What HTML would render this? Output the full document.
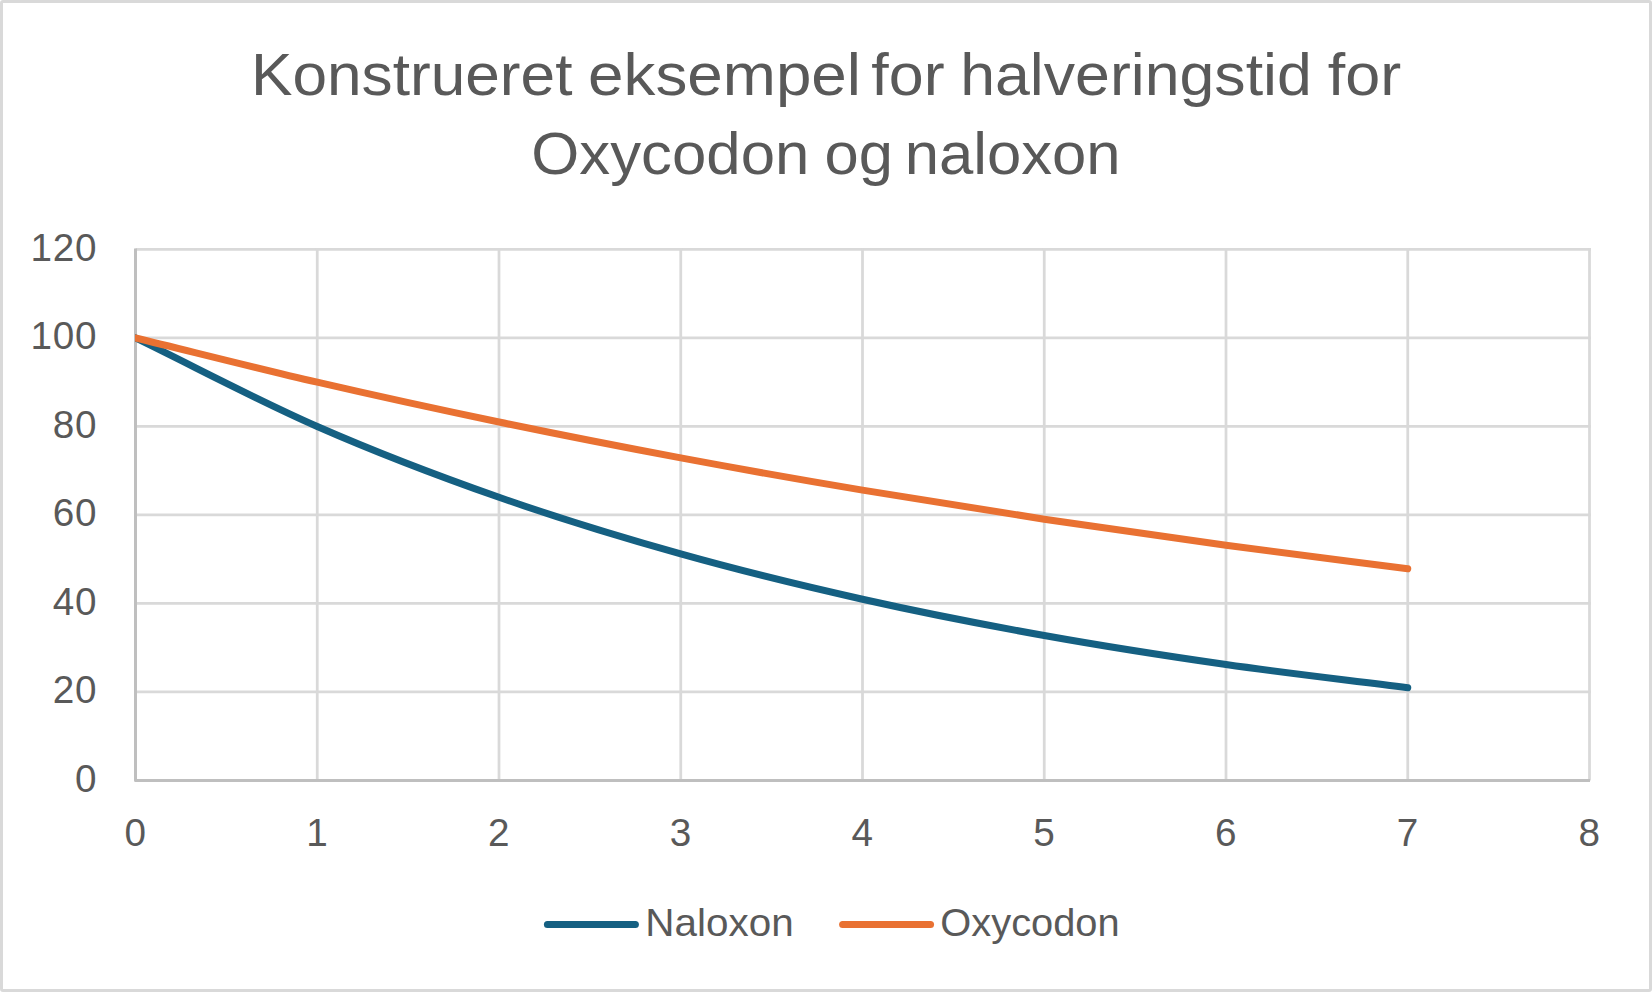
<!DOCTYPE html>
<html lang="da"><head><meta charset="utf-8"><title>Konstrueret eksempel for halveringstid for Oxycodon og naloxon</title>
<style>html,body{margin:0;padding:0;background:#fff;overflow:hidden}svg{display:block}text{font-family:"Liberation Sans",sans-serif;fill:#595959}</style></head><body>
<svg width="1652" height="992" viewBox="0 0 1652 992">
<rect x="0" y="0" width="1652" height="992" fill="#fff"/>
<rect x="1.5" y="1.5" width="1649" height="989" rx="1.5" fill="none" stroke="#D9D9D9" stroke-width="3"/>
<g stroke="#D9D9D9" stroke-width="2.75" fill="none">
<line x1="135.50" x2="1590.88" y1="691.99" y2="691.99"/>
<line x1="135.50" x2="1590.88" y1="603.48" y2="603.48"/>
<line x1="135.50" x2="1590.88" y1="514.98" y2="514.98"/>
<line x1="135.50" x2="1590.88" y1="426.47" y2="426.47"/>
<line x1="135.50" x2="1590.88" y1="337.96" y2="337.96"/>
<line x1="135.50" x2="1590.88" y1="249.45" y2="249.45"/>
<line x1="317.25" x2="317.25" y1="248.07" y2="780.50"/>
<line x1="499.00" x2="499.00" y1="248.07" y2="780.50"/>
<line x1="680.75" x2="680.75" y1="248.07" y2="780.50"/>
<line x1="862.50" x2="862.50" y1="248.07" y2="780.50"/>
<line x1="1044.25" x2="1044.25" y1="248.07" y2="780.50"/>
<line x1="1226.00" x2="1226.00" y1="248.07" y2="780.50"/>
<line x1="1407.75" x2="1407.75" y1="248.07" y2="780.50"/>
<line x1="1589.50" x2="1589.50" y1="248.07" y2="780.50"/>
</g>
<g stroke="#BFBFBF" stroke-width="3" fill="none">
<polyline points="135.50,248.45 135.50,780.50 1590.00,780.50" stroke-linejoin="round"/>
</g>
<clipPath id="plotclip"><rect x="135" y="239.45" width="1464.50" height="551.05"/></clipPath>
<path clip-path="url(#plotclip)" d="M135.50,337.96 C196.08,367.46 256.67,399.91 317.25,426.47 C377.83,453.02 438.42,476.03 499.00,497.27 C559.58,518.52 620.17,536.93 680.75,553.92 C741.33,570.91 801.92,585.64 862.50,599.23 C923.08,612.83 983.67,624.61 1044.25,635.49 C1104.83,646.36 1165.42,655.79 1226.00,664.49 C1286.58,673.19 1347.17,679.96 1407.75,687.69" fill="none" stroke="#156082" stroke-width="7" stroke-linecap="round" stroke-linejoin="round"/>
<path clip-path="url(#plotclip)" d="M135.50,337.96 C196.08,352.71 256.67,368.20 317.25,382.21 C377.83,396.23 438.42,409.43 499.00,422.04 C559.58,434.65 620.17,446.54 680.75,457.89 C741.33,469.24 801.92,479.93 862.50,490.15 C923.08,500.36 983.67,509.99 1044.25,519.18 C1104.83,528.38 1165.42,537.04 1226.00,545.32 C1286.58,553.59 1347.17,560.99 1407.75,568.83" fill="none" stroke="#E97132" stroke-width="7" stroke-linecap="round" stroke-linejoin="round"/>
<line x1="547.4" x2="635.4" y1="924.45" y2="924.45" stroke="#156082" stroke-width="7" stroke-linecap="round"/>
<line x1="842.6" x2="930.55" y1="924.45" y2="924.45" stroke="#E97132" stroke-width="7" stroke-linecap="round"/>
<text y="95.40" font-size="60"><tspan x="250.97" textLength="321.47" lengthAdjust="spacingAndGlyphs">Konstrueret</tspan> <tspan x="588.14" textLength="272.86" lengthAdjust="spacingAndGlyphs">eksempel</tspan> <tspan x="871.32" textLength="73.26" lengthAdjust="spacingAndGlyphs">for</tspan> <tspan x="960.16" textLength="351.67" lengthAdjust="spacingAndGlyphs">halveringstid</tspan> <tspan x="1327.81" textLength="73.47" lengthAdjust="spacingAndGlyphs">for</tspan></text>
<text y="174.30" font-size="60"><tspan x="531.27" textLength="278.15" lengthAdjust="spacingAndGlyphs">Oxycodon</tspan> <tspan x="824.64" textLength="68.36" lengthAdjust="spacingAndGlyphs">og</tspan> <tspan x="904.69" textLength="215.85" lengthAdjust="spacingAndGlyphs">naloxon</tspan></text>
<text x="645.29" y="936.4" font-size="38.5" textLength="148.35" lengthAdjust="spacingAndGlyphs">Naloxon</text>
<text x="940.39" y="936.4" font-size="38.5" textLength="179.21" lengthAdjust="spacingAndGlyphs">Oxycodon</text>
<g font-size="38.7" letter-spacing="0.7">
<text x="74.98" y="791.95">0</text>
<text x="52.75" y="703.44">20</text>
<text x="52.75" y="614.93">40</text>
<text x="52.75" y="526.43">60</text>
<text x="52.75" y="437.92">80</text>
<text x="30.53" y="349.41">100</text>
<text x="30.53" y="260.90">120</text>
<text x="124.44" y="845.50">0</text>
<text x="306.19" y="845.50">1</text>
<text x="487.94" y="845.50">2</text>
<text x="669.69" y="845.50">3</text>
<text x="851.44" y="845.50">4</text>
<text x="1033.19" y="845.50">5</text>
<text x="1214.94" y="845.50">6</text>
<text x="1396.69" y="845.50">7</text>
<text x="1578.44" y="845.50">8</text>
</g>
</svg></body></html>
